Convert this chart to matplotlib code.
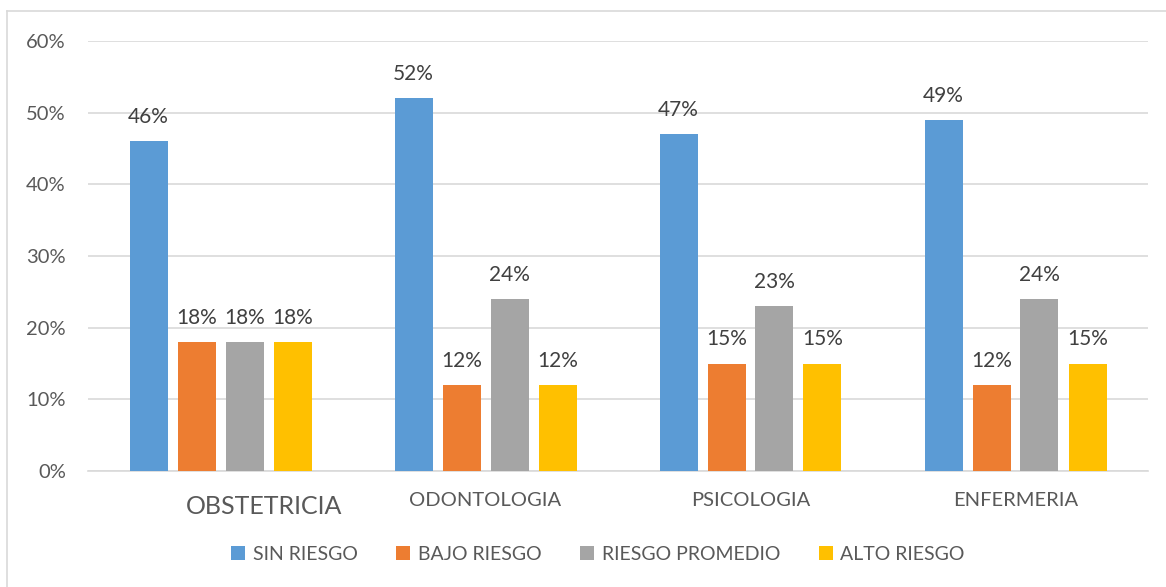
import matplotlib.pyplot as plt
import numpy as np
from matplotlib.lines import Line2D

plt.rcParams['font.family'] = ['Lato', 'DejaVu Sans']

# datos
carreras = ['OBSTETRICIA', 'ODONTOLOGIA', 'PSICOLOGIA', 'ENFERMERIA']
sin_riesgo = [46, 52, 47, 49]
bajo_riesgo = [18, 12, 15, 12]
riesgo_promedio = [18, 24, 23, 24]
alto_riesgo = [18, 12, 15, 15]
series = ['SIN RIESGO', 'BAJO RIESGO', 'RIESGO PROMEDIO', 'ALTO RIESGO']
colores = ['#5b9bd5', '#ed7d31', '#a5a5a5', '#ffc000']

fig = plt.figure(figsize=(11.66, 5.87), dpi=100)
ax = fig.add_axes([88 / 1166, 1 - 471 / 587, 1060 / 1166, 430 / 587])

# borde del grafico (solo izquierda y arriba visibles)
fig.add_artist(Line2D([7 / 1166, 7 / 1166], [0, 1 - 11 / 587], color='#d9d9d9', lw=1.2))
fig.add_artist(Line2D([7 / 1166, 1], [1 - 11 / 587, 1 - 11 / 587], color='#d9d9d9', lw=1.2))

x = np.arange(len(carreras))
ancho = 38 / 265
paso = 48 / 265
valores = [sin_riesgo, bajo_riesgo, riesgo_promedio, alto_riesgo]

for i, (vals, nombre, color) in enumerate(zip(valores, series, colores)):
    pos = x + (i - 1.5) * paso
    ax.bar(pos, vals, width=ancho, color=color, label=nombre, zorder=3)
    for p, v in zip(pos, vals):
        ax.text(p, v + 2.0, f'{v}%', ha='center', va='bottom', fontsize=15, color='#404040')

ax.set_xlim(-0.5, len(carreras) - 0.5)
ax.set_ylim(0, 60)
ax.set_yticks(range(0, 61, 10))
ax.set_yticklabels([f'{t}%' for t in range(0, 61, 10)], fontsize=14.5, color='#595959')
ax.tick_params(axis='y', length=0, pad=16)
ax.tick_params(axis='x', length=0)
ax.set_xticks(x)
ax.set_xticklabels([])
for i, c in enumerate(carreras):
    # la primera etiqueta aparece desplazada y mas grande en el original
    dx = 44 if i == 0 else 0
    dy = -36 if i == 0 else -30
    fs = 18 if i == 0 else 14.5
    ax.annotate(c, (x[i], 0), xytext=(dx, dy), textcoords='offset pixels',
                ha='center', va='center', fontsize=fs, color='#595959')

ax.grid(axis='y', color='#d9d9d9', lw=1.2, zorder=0)
for s in ['top', 'right', 'left']:
    ax.spines[s].set_visible(False)
ax.spines['bottom'].set_color('#d9d9d9')
ax.spines['bottom'].set_linewidth(1.2)

leg = fig.legend(loc='center', bbox_to_anchor=(598 / 1166, 1 - 554 / 587), ncol=4,
                 frameon=False, fontsize=14, handlelength=0.7, handleheight=0.7,
                 handletextpad=0.4, columnspacing=2.0)
for t in leg.get_texts():
    t.set_color('#595959')

fig.savefig('out.png', dpi=100)
